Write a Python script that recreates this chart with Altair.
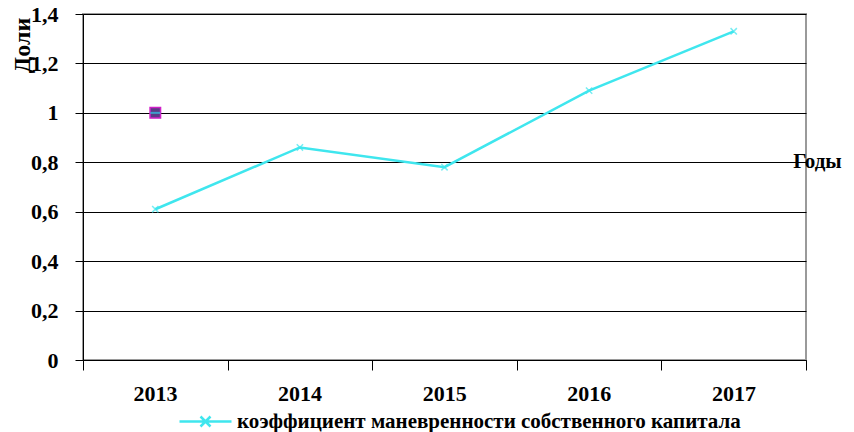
import altair as alt
import pandas as pd

years = [2013, 2014, 2015, 2016, 2017]
values = [0.61, 0.86, 0.78, 1.09, 1.33]
series_name = "коэффициент маневренности собственного капитала"
marker_year = [2013]
marker_value = [1.0]
y_ticks = [0, 0.2, 0.4, 0.6, 0.8, 1.0, 1.2, 1.4]
x_ticks = [2012.5, 2013.5, 2014.5, 2015.5, 2016.5, 2017.5]

df = pd.DataFrame({"year": years, "value": values, "series": [series_name] * len(years)})
dm = pd.DataFrame({"year": marker_year, "value": marker_value})

FONT = "Liberation Serif"
CYAN = "#3fe6ee"
XPATH = "M-1,-1L1,1M-1,1L1,-1"

x_enc = alt.X(
    "year:Q",
    scale=alt.Scale(domain=[2012.5, 2017.5], nice=False, zero=False),
    axis=alt.Axis(
        values=x_ticks,
        labelExpr="datum.value < 2017 ? format(datum.value + 0.5, 'd') : ''",
        labelOffset=72,
        labelPadding=13,
        labelFlush=False,
        labelOverlap=False,
        tickSize=10,
        tickColor="black",
        domainColor="black",
        grid=False,
        labelFont=FONT,
        labelFontSize=22,
        labelFontWeight="bold",
        labelColor="black",
        title="Годы",
        titleFont=FONT,
        titleFontSize=21,
        titleFontWeight="bold",
        titleColor="black",
        titleX=734,
        titleY=-199,
        titleAlign="center",
        titleBaseline="middle",
    ),
)

y_enc = alt.Y(
    "value:Q",
    scale=alt.Scale(domain=[0, 1.4], nice=False),
    axis=alt.Axis(
        values=y_ticks,
        labelExpr="replace(format(datum.value, '.1~f'), '.', ',')",
        tickSize=8,
        tickColor="black",
        domainColor="black",
        gridColor="black",
        gridOpacity=1,
        labelPadding=17,
        labelFont=FONT,
        labelFontSize=22,
        labelFontWeight="bold",
        labelColor="black",
        title="Доли",
        titleFont=FONT,
        titleFontSize=24,
        titleFontWeight="bold",
        titleColor="black",
        titleX=-61,
        titleY=31,
        titleAlign="center",
        titleBaseline="middle",
    ),
)

line = alt.Chart(df).mark_line(strokeWidth=2.5).encode(
    x=x_enc,
    y=y_enc,
    color=alt.Color(
        "series:N",
        scale=alt.Scale(range=[CYAN]),
        legend=alt.Legend(
            title=None,
            orient="none",
            legendX=112,
            legendY=397,
            padding=0,
            symbolType="M-5.2,0L5.2,0M-1,-1L1,1M-1,1L1,-1",
            symbolSize=100,
            symbolStrokeWidth=2.5,
            symbolStrokeColor=CYAN,
            labelFont=FONT,
            labelFontSize=21,
            labelFontWeight="bold",
            labelColor="black",
            labelLimit=800,
            labelOffset=21,
        ),
    ),
)

pts = alt.Chart(df).mark_point(shape=XPATH, size=40, strokeWidth=1.5, color=CYAN, filled=False).encode(
    x="year:Q", y="value:Q"
)

marker = alt.Chart(dm).mark_square(size=110, fill="#5b3b86", stroke="#d020c8", strokeWidth=1.5, opacity=1).encode(
    x="year:Q", y="value:Q"
)
marker_line = alt.Chart(dm).mark_tick(orient="horizontal", size=10, thickness=2, color="#30c8e8").encode(
    x="year:Q", y="value:Q"
)

chart = (
    alt.layer(line, pts, marker, marker_line)
    .properties(
        width=723,
        height=346,
        autosize=alt.AutoSizeParams(type="none"),
        padding={"left": 75, "top": 6, "right": 40, "bottom": 76},
        background="white",
    )
    .configure_view(stroke="#9a9a9a", strokeWidth=2)
)

chart.save("out.html", embed_options={"renderer": "svg", "actions": False})
